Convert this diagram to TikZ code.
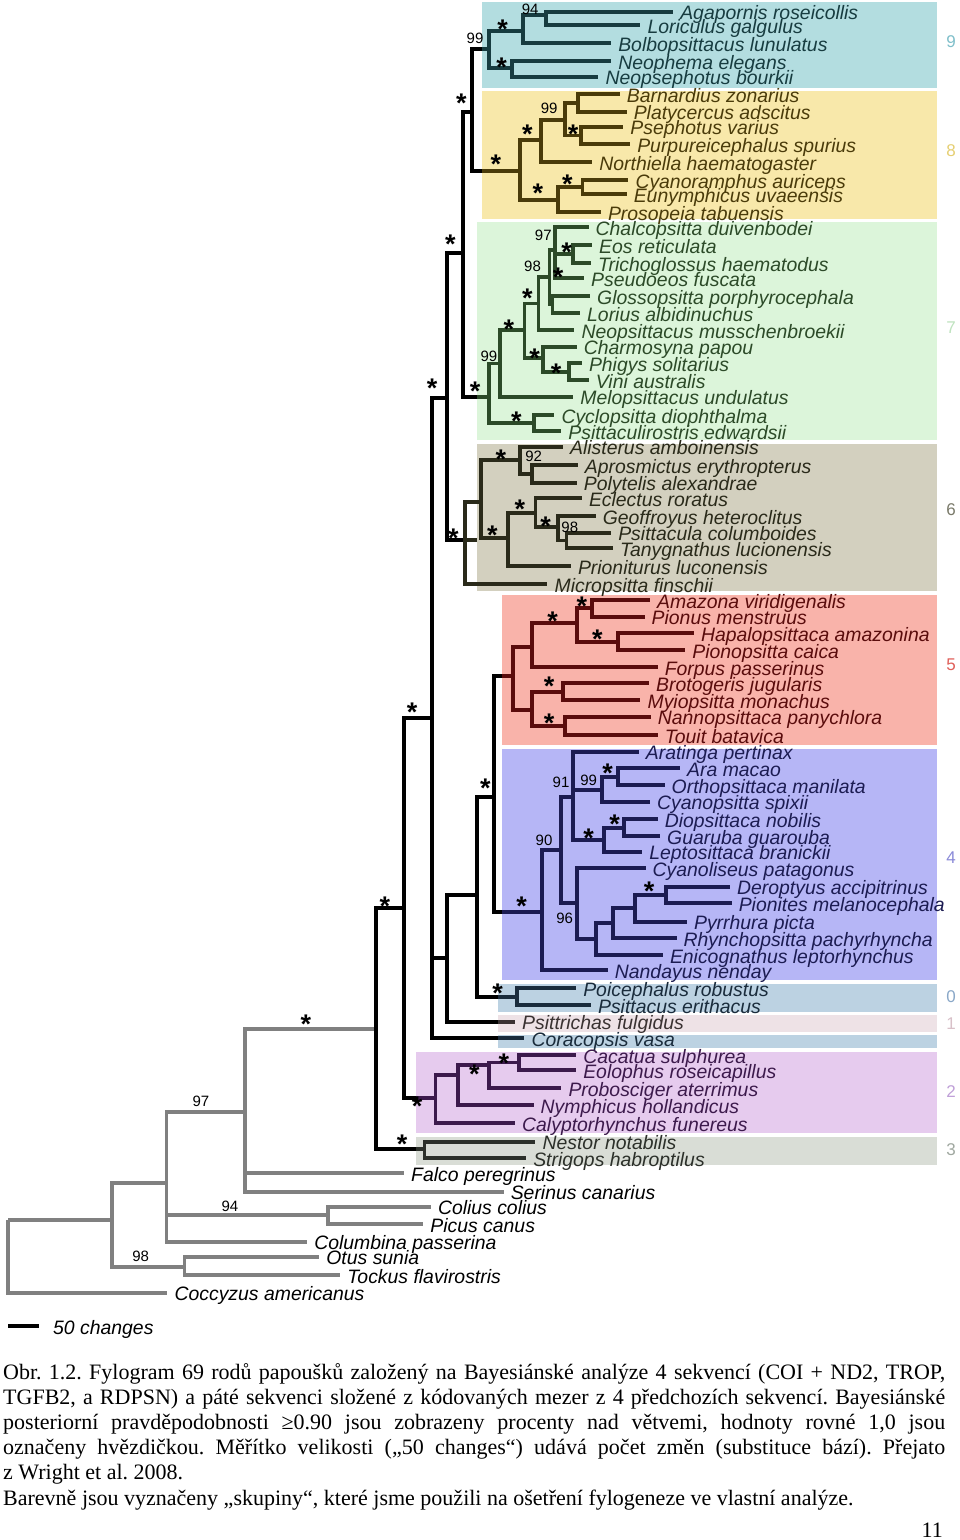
\documentclass[tikz,border=0pt]{standalone}
\usepackage{fontspec}
\setmainfont{Liberation Serif}
\setsansfont{Liberation Sans}
\frenchspacing
\definecolor{c9}{HTML}{173C40}
\definecolor{c8}{HTML}{4A3B0A}
\definecolor{c7}{HTML}{2C4A28}
\definecolor{c6}{HTML}{2A2A1A}
\definecolor{c5}{HTML}{5A0C0C}
\definecolor{c4}{HTML}{1C1C52}
\definecolor{c0}{HTML}{1A2C3C}
\definecolor{c1}{HTML}{3A3232}
\definecolor{c2}{HTML}{3C1A4C}
\definecolor{c3}{HTML}{2C302A}
\definecolor{og}{HTML}{808080}
\definecolor{b9}{HTML}{B3DDE0}
\definecolor{b8}{HTML}{F8E8AA}
\definecolor{b7}{HTML}{DCF5DA}
\definecolor{b6}{HTML}{D3D0BF}
\definecolor{b5}{HTML}{F9B3AA}
\definecolor{b4}{HTML}{B6B6F6}
\definecolor{b0}{HTML}{BCD2E2}
\definecolor{b1}{HTML}{EEE2E6}
\definecolor{b2}{HTML}{E6CBEE}
\definecolor{b3}{HTML}{D9DDD6}
\definecolor{n9}{HTML}{7FBFCA}
\definecolor{n8}{HTML}{E6CF72}
\definecolor{n7}{HTML}{BFE3BF}
\definecolor{n6}{HTML}{7A7A6A}
\definecolor{n5}{HTML}{E0605A}
\definecolor{n4}{HTML}{8A8AD8}
\definecolor{n0}{HTML}{8AA8C8}
\definecolor{n1}{HTML}{D8C0C8}
\definecolor{n2}{HTML}{C0A0D8}
\definecolor{n3}{HTML}{A0A8A0}
\tikzset{
  br/.style={line width=3.8pt},
  bk/.style={br,black},
  gy/.style={br,og},
  taxon/.style={font=\sffamily\itshape\fontsize{19.4}{19.4}\selectfont,inner sep=0pt,anchor=base west},
  numlbl/.style={font=\sffamily\fontsize{15}{15}\selectfont,inner sep=0pt},
  starlbl/.style={font=\sffamily\bfseries\fontsize{27}{27}\selectfont,inner sep=0pt,anchor=base,yshift=-15.5pt},
  grpnum/.style={font=\sffamily\fontsize{17}{17}\selectfont,inner sep=0pt},
  capt/.style={font=\fontsize{22}{25}\selectfont,inner sep=0pt,anchor=base west}
}
\newcommand\tipn[5]{\coordinate (#1) at (#2,#3);
  \node[taxon,text=#5] (#1t) at ([xshift=7pt,yshift=-8pt]#1) {#4};}
\newcommand\edg[3]{\draw[br,#1] (#2) |- (#3);}
\newcommand\cedg[4]{\draw[bk] (#1) |- (#2); \draw[br,#4] (#2 -| #3) -- (#2);}
\newcommand\stl[3]{\node[starlbl] (#1) at (#2,#3) {*};}
\newcommand\numl[4]{\node[numlbl] (#1) at (#2,#3) {#4};}
\begin{document}
\begin{tikzpicture}[x=1pt,y=-1pt]
\useasboundingbox (0,0) rectangle (960,1540);
\fill[white] (0,0) rectangle (960,1540);
% ---------- backgrounds
\fill[b9] (482,2) rectangle (937,87.5);
\fill[b8] (482,90.5) rectangle (937,218.5);
\fill[b7] (477,221.5) rectangle (937,440);
\fill[b6] (477,444) rectangle (937,590.5);
\fill[b5] (502,594.5) rectangle (937,745);
\fill[b4] (502,748.5) rectangle (937,980);
\fill[b0] (497.6,984) rectangle (937,1011.7);
\fill[b1] (497.6,1015) rectangle (937,1031.7);
\fill[b0] (497.6,1035) rectangle (937,1048.3);
\fill[b2] (416.3,1051.7) rectangle (937,1133.3);
\fill[b3] (416.3,1136.7) rectangle (937,1165);
\coordinate (e98) at (482,0);
\coordinate (e76) at (477,0);
\coordinate (e54) at (502,0);
\coordinate (e01) at (497.6,0);
\coordinate (e23) at (416.3,0);
% ---------- group numbers
\node[grpnum,text=n9] (gn9) at (951,42) {9};
\node[grpnum,text=n8] (gn8) at (951,151) {8};
\node[grpnum,text=n7] (gn7) at (951,328) {7};
\node[grpnum,text=n6] (gn6) at (951,510) {6};
\node[grpnum,text=n5] (gn5) at (951,665) {5};
\node[grpnum,text=n4] (gn4) at (951,858) {4};
\node[grpnum,text=n0] (gn0) at (951,997) {0};
\node[grpnum,text=n1] (gn1) at (951,1024) {1};
\node[grpnum,text=n2] (gn2) at (951,1092) {2};
\node[grpnum,text=n3] (gn3) at (951,1150) {3};
% ---------- internal nodes
\coordinate (A) at (463.0,253.3);
\coordinate (B) at (446.9,398.3);
\coordinate (C) at (432.1,718.3);
\coordinate (D) at (494.0,796.7);
\coordinate (E) at (404.0,908.3);
\coordinate (F) at (477.0,895.0);
\coordinate (G) at (446.6,958.3);
\coordinate (I) at (376.3,1029.3);
\coordinate (J) at (244.6,1111.7);
\coordinate (K) at (166.5,1182.7);
\coordinate (L) at (111.6,1220.0);
\coordinate (R) at (8.0,1220.0);
\coordinate (nCP) at (328.1,1215.3);
\coordinate (nOT) at (184.4,1266.7);
\coordinate (g89) at (471.7,112);
\coordinate (g9) at (488.9,49.3);
\coordinate (n9a) at (522.6,30.7);
\coordinate (n9b) at (545.7,15);
\coordinate (n9c) at (512.3,68.3);
\coordinate (g8) at (519.9,170.7);
\coordinate (n8a) at (541.2,140);
\coordinate (n8b) at (565.3,120);
\coordinate (n8c) at (577.7,103);
\coordinate (n8d) at (580.8,135.5);
\coordinate (n8e) at (557.7,200);
\coordinate (n8f) at (582.5,187);
\coordinate (g7) at (488.9,396.7);
\coordinate (n99) at (499.9,363.5);
\coordinate (s2) at (524.5,330);
\coordinate (s1) at (538.5,303.5);
\coordinate (n98) at (549.5,277);
\coordinate (n97) at (555,250);
\coordinate (n7a) at (573,254);
\coordinate (n7gl) at (552.5,304.5);
\coordinate (n7ch) at (542.9,358);
\coordinate (n7pv) at (568.8,371.7);
\coordinate (n7cy) at (533.6,423);
\coordinate (g6) at (464.8,540);
\coordinate (n6a) at (481.3,501.7);
\coordinate (n6b) at (519.9,460);
\coordinate (n6c) at (531.9,473.8);
\coordinate (n6d) at (507.8,538.3);
\coordinate (n6e) at (535.4,512.7);
\coordinate (n6f) at (557.7,527.3);
\coordinate (n6g) at (566.4,540.5);
\coordinate (g5) at (513.0,676);
\coordinate (n5a) at (531.9,646.7);
\coordinate (n5b) at (576.7,623.3);
\coordinate (n5c) at (592.2,608.3);
\coordinate (n5d) at (618,641.7);
\coordinate (n5e) at (531.9,710);
\coordinate (n5f) at (562.9,691.7);
\coordinate (n5g) at (564.6,725.8);
\coordinate (g4) at (542.2,911.7);
\coordinate (n90) at (561.2,850);
\coordinate (n91) at (573.2,796.7);
\coordinate (n4p) at (601.8,790);
\coordinate (n4am) at (618,776.7);
\coordinate (n4dg) at (604.2,840);
\coordinate (n4d) at (623.9,827.7);
\coordinate (n96) at (576.7,903.3);
\coordinate (n4x) at (596.3,939.3);
\coordinate (n4y) at (612.8,923);
\coordinate (n4z) at (635.2,908);
\coordinate (n4dp) at (666.2,895);
\coordinate (g0) at (516.9,996.7);
\coordinate (g2) at (435.5,1098.3);
\coordinate (n2a) at (457.7,1075);
\coordinate (n2b) at (489.1,1065);
\coordinate (n2c) at (518.7,1062.5);
\coordinate (g3) at (424.4,1149.3);
% ---------- tips
\tipn{aga}{673.1}{11.7}{Agapornis roseicollis}{c9}
\tipn{lor}{640.4}{25}{Loriculus galgulus}{c9}
\tipn{bol}{611.1}{43.3}{Bolbopsittacus lunulatus}{c9}
\tipn{neph}{611.1}{61}{Neophema elegans}{c9}
\tipn{neps}{598.4}{76.7}{Neopsephotus bourkii}{c9}
\tipn{barn}{619.7}{94.3}{Barnardius zonarius}{c8}
\tipn{plat}{626.6}{111.7}{Platycercus adscitus}{c8}
\tipn{psep}{623.2}{126.7}{Psephotus varius}{c8}
\tipn{purp}{630.1}{144.3}{Purpureicephalus spurius}{c8}
\tipn{nort}{592.2}{162.3}{Northiella haematogaster}{c8}
\tipn{cyan}{628.3}{180}{Cyanoramphus auriceps}{c8}
\tipn{euny}{626.6}{194}{Eunymphicus uvaeensis}{c8}
\tipn{pros}{600.8}{212.3}{Prosopeia tabuensis}{c8}
\tipn{chal}{588.5}{227}{Chalcopsitta duivenbodei}{c7}
\tipn{eos}{592}{245}{Eos reticulata}{c7}
\tipn{tric}{591}{263}{Trichoglossus haematodus}{c7}
\tipn{pseu}{584}{278}{Pseudoeos fuscata}{c7}
\tipn{glos}{590}{296}{Glossopsitta porphyrocephala}{c7}
\tipn{lori}{580}{313}{Lorius albidinuchus}{c7}
\tipn{neop}{574.3}{330}{Neopsittacus musschenbroekii}{c7}
\tipn{char}{576.7}{346.7}{Charmosyna papou}{c7}
\tipn{phig}{581.8}{363.3}{Phigys solitarius}{c7}
\tipn{vini}{588.7}{380}{Vini australis}{c7}
\tipn{melo}{573.2}{396.7}{Melopsittacus undulatus}{c7}
\tipn{cycl}{554.3}{415}{Cyclopsitta diophthalma}{c7}
\tipn{psil}{561.2}{431}{Psittaculirostris edwardsii}{c7}
\tipn{alis}{562.9}{446.7}{Alisterus amboinensis}{c6}
\tipn{apro}{577.7}{465}{Aprosmictus erythropterus}{c6}
\tipn{poly}{576.7}{482.7}{Polytelis alexandrae}{c6}
\tipn{ecle}{581.8}{498.3}{Eclectus roratus}{c6}
\tipn{geof}{595.6}{516}{Geoffroyus heteroclitus}{c6}
\tipn{psic}{611.1}{532.7}{Psittacula columboides}{c6}
\tipn{tany}{612.8}{548.3}{Tanygnathus lucionensis}{c6}
\tipn{prio}{570.8}{566}{Prioniturus luconensis}{c6}
\tipn{micr}{547.4}{584}{Micropsitta finschii}{c6}
\tipn{amaz}{650}{600}{Amazona viridigenalis}{c5}
\tipn{pion}{644.5}{616.7}{Pionus menstruus}{c5}
\tipn{hapa}{693.8}{633.3}{Hapalopsittaca amazonina}{c5}
\tipn{pnps}{685.2}{650}{Pionopsitta caica}{c5}
\tipn{forp}{657.6}{667.3}{Forpus passerinus}{c5}
\tipn{brot}{649}{683.3}{Brotogeris jugularis}{c5}
\tipn{myio}{640.4}{700}{Myiopsitta monachus}{c5}
\tipn{nann}{650.7}{716.7}{Nannopsittaca panychlora}{c5}
\tipn{toui}{657.6}{735}{Touit batavica}{c5}
\tipn{arat}{638.7}{751.7}{Aratinga pertinax}{c4}
\tipn{aram}{680}{768.3}{Ara macao}{c4}
\tipn{orth}{664.5}{785}{Orthopsittaca manilata}{c4}
\tipn{cysp}{650}{801.7}{Cyanopsitta spixii}{c4}
\tipn{diop}{657.6}{819.3}{Diopsittaca nobilis}{c4}
\tipn{guar}{660}{836}{Guaruba guarouba}{c4}
\tipn{lept}{642.1}{851.7}{Leptosittaca branickii}{c4}
\tipn{cyal}{645.5}{868.3}{Cyanoliseus patagonus}{c4}
\tipn{dero}{729.9}{886.7}{Deroptyus accipitrinus}{c4}
\tipn{pnit}{731.6}{903.3}{Pionites melanocephala}{c4}
\tipn{pyrr}{686.9}{921.7}{Pyrrhura picta}{c4}
\tipn{rhyn}{676.5}{938.3}{Rhynchopsitta pachyrhyncha}{c4}
\tipn{enic}{662.8}{955}{Enicognathus leptorhynchus}{c4}
\tipn{nand}{607.7}{970}{Nandayus nenday}{c4}
\tipn{poic}{576.1}{988.3}{Poicephalus robustus}{c0}
\tipn{psit}{590.9}{1005}{Psittacus erithacus}{c0}
\tipn{psft}{515}{1021.7}{Psittrichas fulgidus}{c1}
\tipn{cora}{524.3}{1038.3}{Coracopsis vasa}{c0}
\tipn{caca}{576.1}{1055}{Cacatua sulphurea}{c2}
\tipn{eolo}{576.1}{1070}{Eolophus roseicapillus}{c2}
\tipn{prob}{561.3}{1088.3}{Probosciger aterrimus}{c2}
\tipn{nymp}{533.5}{1105}{Nymphicus hollandicus}{c2}
\tipn{caly}{515}{1123.3}{Calyptorhynchus funereus}{c2}
\tipn{nest}{535.4}{1141.7}{Nestor notabilis}{c3}
\tipn{stri}{526.1}{1158.3}{Strigops habroptilus}{c3}
\tipn{falc}{404}{1173.3}{Falco peregrinus}{black}
\tipn{seri}{503.6}{1191.7}{Serinus canarius}{black}
\tipn{coli}{430.8}{1206.7}{Colius colius}{black}
\tipn{picu}{423.2}{1224}{Picus canus}{black}
\tipn{colu}{307.1}{1241.7}{Columbina passerina}{black}
\tipn{otus}{319.2}{1256.7}{Otus sunia}{black}
\tipn{tock}{340.2}{1275}{Tockus flavirostris}{black}
\tipn{cocc}{167.4}{1292.7}{Coccyzus americanus}{black}
% ---------- outgroup edges (grey)
\edg{og}{R}{L} \edg{og}{R}{cocc}
\edg{og}{L}{K} \edg{og}{L}{nOT} \edg{og}{nOT}{otus} \edg{og}{nOT}{tock}
\edg{og}{K}{J} \edg{og}{K}{nCP} \edg{og}{nCP}{coli} \edg{og}{nCP}{picu} \edg{og}{K}{colu}
\edg{og}{J}{I} \edg{og}{J}{falc} \edg{og}{J}{seri}
% ---------- backbone (black)
\edg{black}{I}{E} \cedg{I}{g3}{e23}{c3}
\edg{black}{E}{C} \cedg{E}{g2}{e23}{c2}
\edg{black}{C}{B} \edg{black}{C}{G} \cedg{C}{cora}{e01}{c0}
\edg{black}{G}{F} \cedg{G}{psft}{e01}{c1}
\edg{black}{F}{D} \cedg{F}{g0}{e01}{c0}
\cedg{D}{g5}{e54}{c5} \cedg{D}{g4}{e54}{c4}
\edg{black}{B}{A} \cedg{B}{g6}{e76}{c6}
\edg{black}{A}{g89} \cedg{A}{g7}{e76}{c7}
\cedg{g89}{g9}{e98}{c9} \cedg{g89}{g8}{e98}{c8}
% ---------- group 9
\edg{c9}{g9}{n9a} \edg{c9}{n9a}{n9b} \edg{c9}{n9b}{aga} \edg{c9}{n9b}{lor}
\edg{c9}{n9a}{bol} \edg{c9}{g9}{n9c} \edg{c9}{n9c}{neph} \edg{c9}{n9c}{neps}
% ---------- group 8
\edg{c8}{g8}{n8a} \edg{c8}{n8a}{n8b} \edg{c8}{n8b}{n8c} \edg{c8}{n8c}{barn} \edg{c8}{n8c}{plat}
\edg{c8}{n8b}{n8d} \edg{c8}{n8d}{psep} \edg{c8}{n8d}{purp} \edg{c8}{n8a}{nort}
\edg{c8}{g8}{n8e} \edg{c8}{n8e}{n8f} \edg{c8}{n8f}{cyan} \edg{c8}{n8f}{euny} \edg{c8}{n8e}{pros}
% ---------- group 7
\edg{c7}{g7}{n99} \edg{c7}{g7}{n7cy} \edg{c7}{n7cy}{cycl} \edg{c7}{n7cy}{psil}
\edg{c7}{n99}{s2} \edg{c7}{n99}{melo}
\edg{c7}{s2}{s1} \edg{c7}{s2}{n7ch} \edg{c7}{n7ch}{char} \edg{c7}{n7ch}{n7pv}
\edg{c7}{n7pv}{phig} \edg{c7}{n7pv}{vini}
\edg{c7}{s1}{n98} \edg{c7}{s1}{neop}
\edg{c7}{n98}{n97} \edg{c7}{n98}{n7gl} \edg{c7}{n7gl}{glos} \edg{c7}{n7gl}{lori}
\edg{c7}{n97}{chal} \edg{c7}{n97}{n7a} \edg{c7}{n97}{pseu} \edg{c7}{n7a}{eos} \edg{c7}{n7a}{tric}
% ---------- group 6
\edg{c6}{g6}{n6a} \edg{c6}{g6}{micr}
\edg{c6}{n6a}{n6b} \edg{c6}{n6b}{alis} \edg{c6}{n6b}{n6c} \edg{c6}{n6c}{apro} \edg{c6}{n6c}{poly}
\edg{c6}{n6a}{n6d} \edg{c6}{n6d}{n6e} \edg{c6}{n6d}{prio} \edg{c6}{n6e}{ecle} \edg{c6}{n6e}{n6f}
\edg{c6}{n6f}{geof} \edg{c6}{n6f}{n6g} \edg{c6}{n6g}{psic} \edg{c6}{n6g}{tany}
% ---------- group 5
\edg{c5}{g5}{n5a} \edg{c5}{g5}{n5e}
\edg{c5}{n5a}{n5b} \edg{c5}{n5a}{forp} \edg{c5}{n5b}{n5c} \edg{c5}{n5b}{n5d}
\edg{c5}{n5c}{amaz} \edg{c5}{n5c}{pion} \edg{c5}{n5d}{hapa} \edg{c5}{n5d}{pnps}
\edg{c5}{n5e}{n5f} \edg{c5}{n5e}{n5g} \edg{c5}{n5f}{brot} \edg{c5}{n5f}{myio}
\edg{c5}{n5g}{nann} \edg{c5}{n5g}{toui}
% ---------- group 4
\edg{c4}{g4}{n90} \edg{c4}{g4}{nand}
\edg{c4}{n90}{n91} \edg{c4}{n90}{n96}
\edg{c4}{n91}{arat} \edg{c4}{n91}{n4p} \edg{c4}{n91}{n4dg}
\edg{c4}{n4p}{n4am} \edg{c4}{n4p}{cysp} \edg{c4}{n4am}{aram} \edg{c4}{n4am}{orth}
\edg{c4}{n4dg}{n4d} \edg{c4}{n4dg}{lept} \edg{c4}{n4d}{diop} \edg{c4}{n4d}{guar}
\edg{c4}{n96}{cyal} \edg{c4}{n96}{n4x} \edg{c4}{n4x}{n4y} \edg{c4}{n4x}{enic}
\edg{c4}{n4y}{n4z} \edg{c4}{n4y}{rhyn} \edg{c4}{n4z}{n4dp} \edg{c4}{n4z}{pyrr}
\edg{c4}{n4dp}{dero} \edg{c4}{n4dp}{pnit}
% ---------- group 0, 2, 3
\edg{c0}{g0}{poic} \edg{c0}{g0}{psit}
\edg{c2}{g2}{n2a} \edg{c2}{g2}{caly} \edg{c2}{n2a}{n2b} \edg{c2}{n2a}{nymp}
\edg{c2}{n2b}{n2c} \edg{c2}{n2b}{prob} \edg{c2}{n2c}{caca} \edg{c2}{n2c}{eolo}
\edg{c3}{g3}{nest} \edg{c3}{g3}{stri}
% ---------- support labels
\stl{sa}{461.3}{96.7} \stl{sb}{450.3}{238.3} \stl{sc}{432.1}{381.7} \stl{sd}{412}{706}
\stl{se}{385}{900} \stl{sf}{485.4}{781.7} \stl{sg}{305.8}{1018.3}
\numl{l9a}{475}{38}{99} \stl{s9a}{502.6}{23.3} \numl{l9b}{530.2}{9.3}{94} \stl{s9b}{501.6}{61}
\stl{s8a}{495.8}{158.3} \stl{s8b}{527.4}{128.3} \numl{l8a}{549.1}{108.3}{99} \stl{s8c}{573.2}{128.3}
\stl{s8d}{537.8}{186.7} \stl{s8e}{567.4}{178.3}
\stl{s7a}{475.1}{385} \numl{l7a}{488.9}{356.7}{99} \stl{s7b}{508.8}{323.3} \stl{s7c}{527.4}{291.7}
\numl{l7b}{532.5}{266.7}{98} \numl{l7c}{543.3}{235.3}{97} \stl{s7d}{566.7}{246} \stl{s7e}{558}{271}
\stl{s7f}{534.7}{351.7} \stl{s7g}{556}{366.7} \stl{s7h}{516.4}{415}
\stl{s6a}{453.4}{531.7} \stl{s6b}{500.9}{453.3} \numl{l6a}{533.6}{456.7}{92} \stl{s6c}{492.3}{529.3}
\stl{s6d}{519.9}{503.3} \stl{s6e}{545.7}{520} \numl{l6b}{569.8}{527.3}{98}
\stl{s5a}{552.6}{615} \stl{s5b}{581.8}{600} \stl{s5c}{597.3}{632.7} \stl{s5d}{549.1}{680} \stl{s5e}{549.1}{716.7}
\stl{s4a}{521.6}{900} \numl{l4a}{544}{840}{90} \numl{l4b}{561}{782}{91} \numl{l4c}{588.7}{780}{99}
\stl{s4b}{607.7}{766.7} \stl{s4c}{588.7}{831.7} \stl{s4d}{614.6}{818.3} \numl{l4d}{564.6}{918.3}{96}
\stl{s4e}{649}{885}
\stl{s0a}{497.6}{986.7}
\stl{s2a}{417}{1100} \stl{s2b}{474.3}{1068.3} \stl{s2c}{503.9}{1056.7}
\stl{s3a}{402.2}{1138.3}
\numl{loa}{200.9}{1101.7}{97} \numl{lob}{229.9}{1206}{94} \numl{loc}{140.6}{1256}{98}
% ---------- scale bar
\coordinate (sb1) at (8,1326);
\coordinate (sb2) at (39,1326);
\draw[bk] (sb1) -- (sb2);
\node[taxon,text=black] (sbt) at (53,1334) {50 changes};
% ---------- caption
\node[capt] (cap1) at (3,1379) {\makebox[942pt][s]{Obr. 1.2. Fylogram 69 rodů papoušků založený na Bayesiánské analýze 4 sekvencí (COI + ND2, TROP,}};
\node[capt] (cap2) at (3,1404) {\makebox[942pt][s]{TGFB2, a RDPSN) a páté sekvenci složené z~kódovaných mezer z~4 předchozích sekvencí. Bayesiánské}};
\node[capt] (cap3) at (3,1429) {\makebox[942pt][s]{posteriorní pravděpodobnosti ≥0.90 jsou zobrazeny procenty nad větvemi, hodnoty rovné 1,0 jsou}};
\node[capt] (cap4) at (3,1454) {\makebox[942pt][s]{označeny hvězdičkou. Měřítko velikosti („50 changes“) udává počet změn (substituce bází). Přejato}};
\node[capt] (cap5) at (3,1479) {z~Wright et al. 2008.};
\node[capt] (cap6) at (3,1505) {Barevně jsou vyznačeny „skupiny“, které jsme použili na ošetření fylogeneze ve vlastní analýze.};
\node[capt,anchor=base east] (pg) at (943,1537) {11};
\end{tikzpicture}
\end{document}
